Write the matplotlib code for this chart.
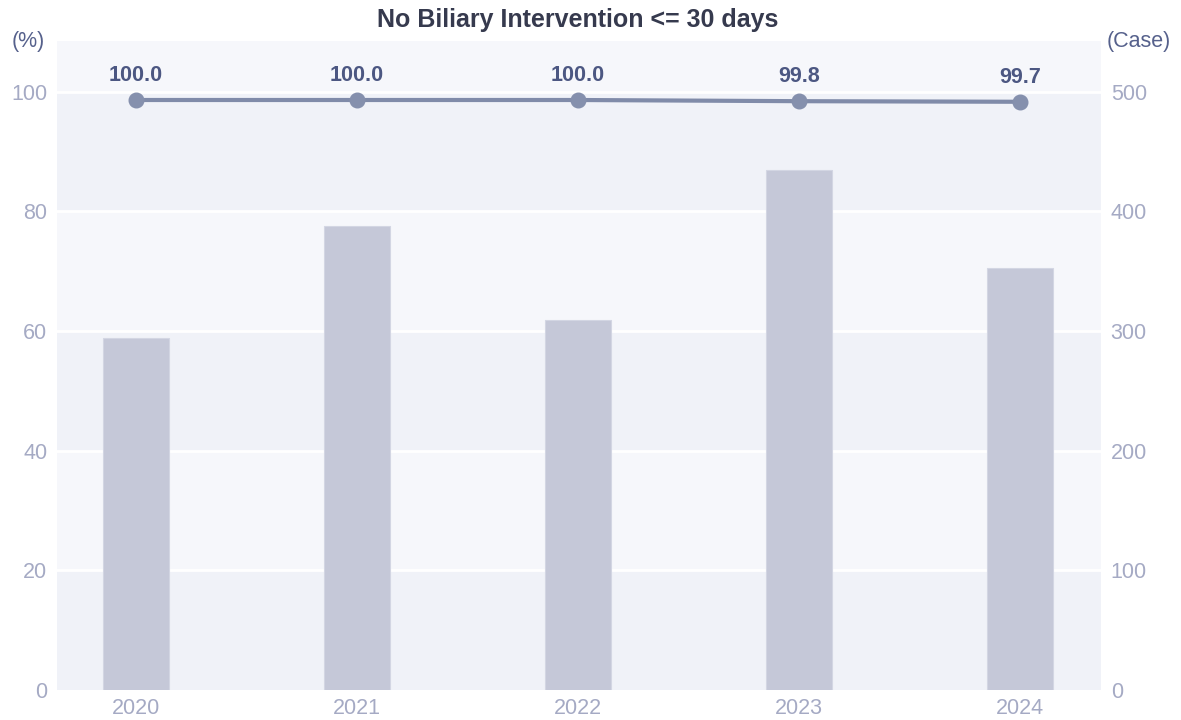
import matplotlib
matplotlib.use("Agg")
import matplotlib.pyplot as plt

plt.rcParams['font.family'] = ['Liberation Sans', 'DejaVu Sans']

years = ["2020", "2021", "2022", "2023", "2024"]
cases = [294, 388, 309, 435, 353]
rates = [100.0, 100.0, 100.0, 99.8, 99.7]
left_ticks = [0, 20, 40, 60, 80, 100]
right_ticks = [0, 100, 200, 300, 400, 500]

fig = plt.figure(figsize=(11.81, 7.2), dpi=100)
ax = fig.add_axes([57/1181, 30/720, 1044/1181, 649/720])
ax2 = ax.twinx()
ax3 = ax.twinx()

x = list(range(len(years)))
xlim = (-0.357, 4.367)

# left axis: bands + grid
ax.set_xlim(*xlim)
ax.set_ylim(0, 108.5)
band_cols = ["#f0f2f8", "#f6f7fb"]
edges = left_ticks + [108.5]
for i in range(len(edges) - 1):
    ax.axhspan(edges[i], edges[i + 1], color=band_cols[i % 2], lw=0, zorder=0)
for t in left_ticks[1:]:
    ax.axhline(t, color="white", lw=2, zorder=1)
ax.set_yticks(left_ticks)
ax.set_xticks(x)
ax.set_xticklabels(years)
ax.tick_params(axis="both", length=0, labelsize=15.5, colors="#a5aac4")
ax.tick_params(axis="y", pad=7)
ax.tick_params(axis="x", pad=6)
for s in ax.spines.values():
    s.set_visible(False)

# right axis: bars
ax2.set_ylim(0, 542.4)
ax2.bar(x, cases, width=0.3, color="#c5c8d8", edgecolor="#d3d6e3", lw=0.8, zorder=2)
ax2.set_yticks(right_ticks)
ax2.tick_params(axis="y", length=0, labelsize=15.5, colors="#a5aac4", pad=7)
ax2.set_xlim(*xlim)
for s in ax2.spines.values():
    s.set_visible(False)

# hidden axis: rate line
ax3.set_ylim(0, 110)
ax3.set_xlim(*xlim)
ax3.plot(x, rates, color="#808ba9", lw=3, marker="o", markersize=10.5,
         markerfacecolor="#8590ad", markeredgecolor="#8590ad", zorder=3)
for xi, r in zip(x, rates):
    ax3.annotate(f"{r:.1f}", (xi, r), xytext=(0, 10), textcoords="offset points",
                 ha="center", va="bottom", fontsize=15.5, fontweight="bold",
                 color="#4c5782")
ax3.set_yticks([])
for s in ax3.spines.values():
    s.set_visible(False)

fig.text(578/1181, 1 - 20/720, "No Biliary Intervention <= 30 days", ha="center",
         va="center", fontsize=18, fontweight="bold", color="#363a4e")
fig.text(28/1181, 1 - 42/720, "(%)", ha="center", va="center", fontsize=15.5,
         color="#56618c")
fig.text(1139/1181, 1 - 42/720, "(Case)", ha="center", va="center", fontsize=15.5,
         color="#56618c")

fig.savefig("out.png", dpi=100, facecolor="white")
